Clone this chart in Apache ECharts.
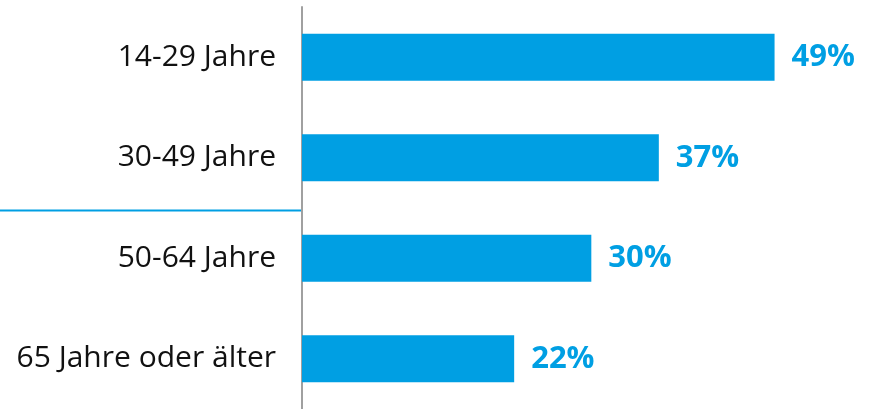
<!DOCTYPE html>
<html>
<head>
<meta charset="utf-8">
<script src="https://cdn.jsdelivr.net/npm/echarts@6/dist/echarts.min.js"></script>
<style>
html,body{margin:0;padding:0;background:#fff;}
#chart{width:873px;height:409px;}
</style>
</head>
<body>
<div id="chart"></div>
<script>
var categories = ['14-29 Jahre', '30-49 Jahre', '50-64 Jahre', '65 Jahre oder älter'];
var values = [49, 37, 30, 22];
var separatorAfterIndex = 1;

var chart = echarts.init(document.getElementById('chart'), null, {renderer: 'canvas'});
var blue = '#009FE3';
chart.setOption({
  animation: false,
  grid: {left: 302, right: 2, top: 7, bottom: -4, containLabel: false},
  xAxis: {
    type: 'value', min: 0, max: 59, show: false
  },
  yAxis: {
    type: 'category',
    data: categories,
    inverse: true,
    axisLine: {show: true, lineStyle: {color: '#a0a0a0', width: 2}},
    axisTick: {show: false},
    axisLabel: {
      color: '#111', fontFamily: 'Open Sans', fontSize: 30, margin: 26
    },
    splitLine: {show: false}
  },
  series: [{
    type: 'bar',
    data: values,
    barWidth: '47%',
    itemStyle: {color: blue},
    label: {
      show: true, position: 'right', distance: 17,
      formatter: '{c}%',
      color: blue, fontFamily: 'Open Sans', fontWeight: 'bold', fontSize: 31
    }
  }]
});

var yA = chart.convertToPixel({yAxisIndex: 0}, categories[separatorAfterIndex]);
var yB = chart.convertToPixel({yAxisIndex: 0}, categories[separatorAfterIndex + 1]);
var xAxisPx = chart.convertToPixel({xAxisIndex: 0}, 0);
var yMid = Math.round((yA + yB) / 2) + 2.5;
chart.setOption({
  graphic: [{
    type: 'line',
    shape: {x1: 0, y1: yMid, x2: xAxisPx - 1, y2: yMid},
    style: {stroke: blue, lineWidth: 2}
  }]
});
</script>
</body>
</html>
